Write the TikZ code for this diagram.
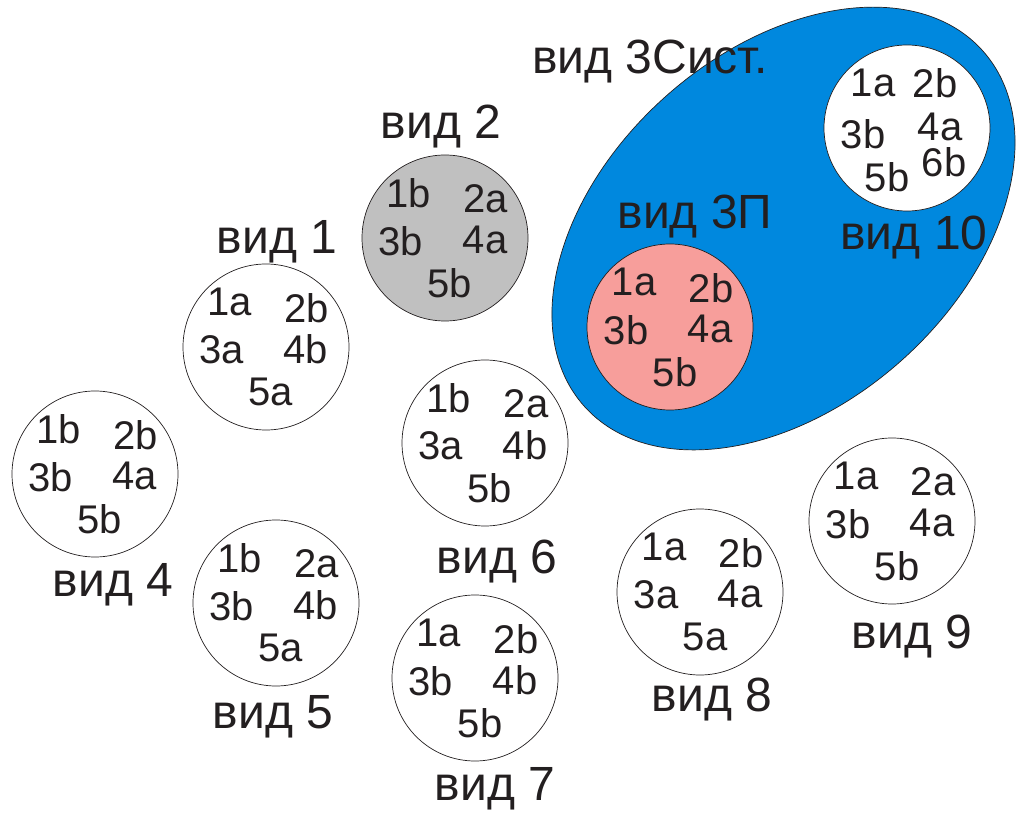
\documentclass[tikz,border=0pt]{standalone}
\usepackage{fontspec}
\setmainfont{Liberation Sans}
\usetikzlibrary{calc}
\definecolor{sysblue}{RGB}{0,136,222}
\definecolor{pinkfill}{RGB}{247,158,155}
\definecolor{grayfill}{RGB}{192,192,192}
\definecolor{ink}{RGB}{35,31,32}
\tikzset{
	view/.style={circle, draw=ink, line width=0.7pt, fill=white,
		minimum size=166, inner sep=0pt, outer sep=0pt},
	part/.style={font=\fontsize{40}{40}\selectfont, inner sep=0pt, text=ink},
	view name/.style={font=\fontsize{48}{48}\selectfont, inner sep=0pt,
		text depth=0pt, text=ink},
	system/.style={fill=sysblue, draw=ink, line width=0.7pt}
}
% the five parts of a view, placed round its centre
\newcommand{\parts}[6]{%
	\node[part] (#1_1) at ($(#1)+(-36,45)$) {#2};
	\node[part] (#1_2) at ($(#1)+(41,39)$) {#3};
	\node[part] (#1_3) at ($(#1)+(-44,-3)$) {#4};
	\node[part] (#1_4) at ($(#1)+(40,-2)$) {#5};
	\node[part] (#1_5) at ($(#1)+(5,-45)$) {#6};
}

\begin{document}
\begin{tikzpicture}[x=1pt, y=1pt]
	\useasboundingbox (0,0) rectangle (1017,812);
	% system ellipse
	\coordinate (sysc) at (783.5,583.5);
	\path[system, rotate around={41.7:(sysc)}] (sysc) ellipse [x radius=267, y radius=177];
	\node[view name] (sysname) at (650,755) {вид 3Сист.};

	\node[view, fill=pinkfill] (v3) at (670,485) {};
	\parts{v3}{1a}{2b}{3b}{4a}{5b}
	\node[view name] (v3name) at (695,600) {вид 3П};

	\node[view] (v10) at (907,684) {};
	\node[part] (v10_1) at ($(v10)+(-34,45)$) {1a};
	\node[part] (v10_2) at ($(v10)+(28,45)$) {2b};
	\node[part] (v10_3) at ($(v10)+(-44,-6)$) {3b};
	\node[part] (v10_4) at ($(v10)+(33,1)$) {4a};
	\node[part] (v10_6) at ($(v10)+(37,-34)$) {6b};
	\node[part] (v10_5) at ($(v10)+(-20,-49)$) {5b};
	\node[view name] (v10name) at (914,579) {вид 10};

	\node[view] (v1) at (266,465) {};
	\parts{v1}{1a}{2b}{3a}{4b}{5a}
	\node[view name] (v1name) at (277,575) {вид 1};

	\node[view, fill=grayfill] (v2) at (445,574) {};
	\parts{v2}{1b}{2a}{3b}{4a}{5b}
	\node[view name] (v2name) at (441,690) {вид 2};

	\node[view] (v4) at (95,338) {};
	\parts{v4}{1b}{2b}{3b}{4a}{5b}
	\node[view name] (v4name) at (113,232) {вид 4};

	\node[view] (v5) at (276,209) {};
	\parts{v5}{1b}{2a}{3b}{4b}{5a}
	\node[view name] (v5name) at (273,100) {вид 5};

	\node[view] (v6) at (485,369) {};
	\parts{v6}{1b}{2a}{3a}{4b}{5b}
	\node[view name] (v6name) at (497,255) {вид 6};

	\node[view] (v7) at (475,134) {};
	\parts{v7}{1a}{2b}{3b}{4b}{5b}
	\node[view name] (v7name) at (495,28) {вид 7};

	\node[view] (v8) at (700,220) {};
	\parts{v8}{1a}{2b}{3a}{4a}{5a}
	\node[view name] (v8name) at (712,117) {вид 8};

	\node[view] (v9) at (892,291) {};
	\parts{v9}{1a}{2a}{3b}{4a}{5b}
	\node[view name] (v9name) at (912,180) {вид 9};
\end{tikzpicture}
\end{document}
